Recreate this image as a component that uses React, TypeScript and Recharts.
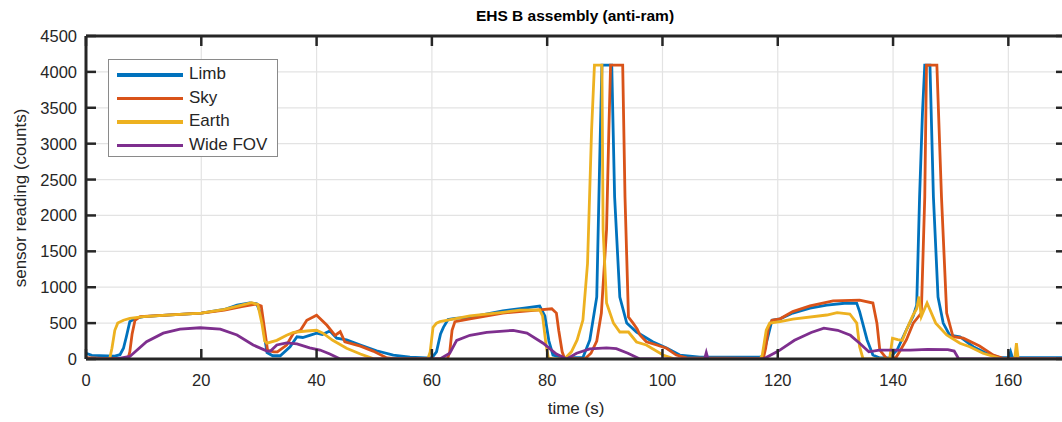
import React from 'react';
import { LineChart, Line, XAxis, YAxis, CartesianGrid, Legend } from 'recharts';

// ---------- data ----------
const xTicks = [0, 20, 40, 60, 80, 100, 120, 140, 160];
const yTicks = [0, 500, 1000, 1500, 2000, 2500, 3000, 3500, 4000, 4500];

const limbT = [0, 1, 5, 5.9, 6.5, 7.0, 7.6, 8.5, 10, 14, 20, 24, 26.2, 28.4, 29.6, 30.5, 31.0, 31.4, 32.4, 33.7, 35.4, 36.6, 37.6, 38.8, 40.0, 41.0, 42.3, 43.5, 45.2, 47.6, 50.4, 53.3, 56.2, 59.0, 60.0, 60.8, 61.5, 62.0, 62.8, 64.0, 66.5, 72.3, 76, 78.7, 79.6, 80.3, 81.0, 82.7, 86.2, 87.4, 88.6, 89.1, 89.5, 91.2, 91.7, 92.6, 93.8, 95.5, 98.3, 100.8, 103, 106.5, 116.9, 117.4, 118.1, 119, 120.4, 122.6, 125.6, 128.5, 132, 133.7, 134.2, 135.5, 136.5, 137.7, 139.4, 140.7, 142.3, 143.5, 144.1, 144.6, 145.1, 145.5, 146.4, 147.0, 147.8, 148.7, 149.8, 151.6, 153.9, 156.2, 158.5, 160.1, 160.4, 160.7, 170];
const limbV = [80, 50, 40, 60, 150, 310, 520, 565, 590, 610, 640, 690, 750, 780, 770, 600, 300, 90, 45, 45, 170, 310, 300, 330, 360, 340, 390, 290, 265, 195, 115, 55, 25, 15, 15, 100, 350, 440, 550, 565, 580, 670, 710, 738, 600, 250, 56, 20, 20, 265, 864, 2730, 4095, 4095, 2257, 864, 500, 376, 240, 150, 55, 25, 25, 40, 250, 540, 560, 640, 710, 750, 780, 775, 660, 265, 55, 15, 15, 125, 404, 600, 750, 2257, 3427, 4095, 4095, 2257, 864, 500, 334, 310, 171, 80, 20, 20, 100, 20, 20];

const skyT = [0, 3, 7.3, 7.6, 8.0, 8.5, 9.4, 14, 20, 24, 27, 29.6, 30.4, 31.0, 31.5, 32.6, 33.2, 34.8, 36.0, 37.2, 38.3, 40.0, 41.8, 43.2, 44.1, 44.9, 47.6, 49.8, 52.2, 54.5, 62.7, 63.1, 63.5, 64.0, 66.6, 72.3, 78.2, 80.8, 81.6, 82.0, 82.6, 83.0, 86.5, 87.6, 88.6, 89.4, 90.3, 90.7, 91.0, 93.1, 93.5, 94.1, 94.9, 95.6, 96.1, 97.2, 99.0, 100.7, 102.4, 104.2, 117.5, 117.9, 118.4, 119, 120.4, 122.6, 125.6, 129.6, 134.2, 136.5, 137.2, 137.7, 138.9, 140.5, 141.3, 142.3, 143.5, 144.9, 145.5, 145.8, 147.6, 148.4, 149.3, 150.4, 152.2, 155, 157.4, 159.1, 170];
const skyV = [20, 10, 10, 100, 350, 540, 590, 610, 640, 680, 730, 765, 740, 400, 120, 100, 100, 195, 360, 400, 540, 610, 470, 330, 380, 240, 180, 110, 15, 0, 0, 100, 400, 520, 560, 640, 680, 700, 640, 400, 100, 10, 0, 80, 250, 640, 1800, 3190, 4095, 4095, 2257, 585, 500, 420, 334, 240, 195, 150, 55, 15, 10, 150, 450, 540, 560, 660, 740, 810, 820, 780, 500, 125, 5, 20, 125, 265, 500, 640, 2257, 4095, 4095, 2257, 640, 310, 290, 180, 55, 10, 5];

const earthT = [0, 4.1, 4.5, 5.0, 5.5, 6.5, 7.6, 10, 14, 20, 24, 27, 28.7, 29.8, 30.5, 31.0, 31.4, 33.1, 34.8, 36.0, 38.3, 40.0, 41.1, 42.8, 45.2, 47.6, 49.8, 59.3, 59.7, 60.2, 60.8, 61.4, 63.2, 66.6, 72.3, 75.3, 78.7, 79.2, 79.8, 80.2, 81, 83, 84.2, 85.2, 86.2, 87.0, 87.7, 88.2, 89.5, 89.7, 90.3, 91.5, 92.6, 94.1, 95.5, 97.2, 100.1, 101.9, 116.9, 117.3, 118, 118.6, 120.4, 122.6, 128.5, 130.3, 132.5, 133.7, 134.2, 134.8, 139.4, 139.9, 140.8, 141.6, 142.3, 143.4, 144.1, 144.5, 144.9, 145.9, 147.4, 149.3, 151.6, 153.3, 155.6, 158.5, 161.1, 161.4, 161.7, 170];
const earthV = [0, 0, 150, 400, 500, 540, 565, 590, 610, 640, 690, 750, 785, 760, 500, 250, 220, 260, 330, 370, 390, 400, 360, 260, 150, 70, 5, 0, 100, 440, 500, 520, 550, 600, 650, 680, 685, 600, 200, 20, 0, 0, 100, 265, 543, 1330, 3180, 4095, 4095, 1800, 780, 500, 376, 376, 237, 195, 55, 5, 0, 50, 400, 500, 520, 557, 613, 645, 627, 500, 171, 0, 0, 290, 270, 260, 400, 600, 700, 870, 590, 780, 500, 334, 219, 171, 80, 10, 0, 220, 0, 0];

const wideT = [0, 5.3, 7.6, 10.5, 13.4, 16.3, 19.8, 23.3, 26.2, 29.0, 31.4, 32.0, 33.1, 34.8, 36.6, 38.8, 40.6, 42.3, 44.1, 61.4, 63.1, 64.3, 66.6, 69.5, 74.1, 76.5, 79.3, 81.6, 83.4, 85.1, 87.4, 90.3, 92.0, 94.0, 96.1, 107.3, 107.6, 107.9, 117.5, 120.1, 122.9, 125.8, 128.0, 130.4, 132.6, 134.2, 135.8, 137.6, 140, 143, 146, 149.5, 150.6, 151.4, 170];
const wideV = [0, 0, 35, 240, 360, 415, 435, 415, 335, 195, 110, 110, 195, 225, 210, 155, 125, 70, 0, 0, 80, 260, 330, 370, 400, 360, 220, 70, 0, 80, 140, 155, 145, 80, 0, 0, 90, 0, 0, 110, 260, 370, 430, 400, 330, 220, 100, 125, 125, 125, 135, 130, 110, 0, 0];

const seriesNames = ['Limb', 'Sky', 'Earth', 'Wide FOV'];
const seriesColors = ['#0072BD', '#D95319', '#EDB120', '#7E2F8E'];

const zip = (ts: number[], vs: number[]) => ts.map((t, i) => ({ t, v: vs[i] }));
const seriesData = [zip(limbT, limbV), zip(skyT, skyV), zip(earthT, earthV), zip(wideT, wideV)];

// ---------- styling ----------
const AX = '#262626';
const FONT = '"Liberation Sans", Arial, Helvetica, sans-serif';
const TICK_LEN = 10;
const TICK_W = 2.5;

const BottomTick = (p: any) => {
  const { x, y, payload } = p;
  return (
    <g>
      <line x1={x} y1={y} x2={x} y2={y - TICK_LEN} stroke={AX} strokeWidth={TICK_W} />
      <text x={x} y={y + 27} textAnchor="middle" fill={AX} fontSize={16.5} fontFamily={FONT}>
        {payload.value}
      </text>
    </g>
  );
};
const TopTick = (p: any) => {
  const { x, y } = p;
  return <line x1={x} y1={y} x2={x} y2={y + TICK_LEN} stroke={AX} strokeWidth={TICK_W} />;
};
const LeftTick = (p: any) => {
  const { x, y, payload } = p;
  return (
    <g>
      <line x1={x} y1={y} x2={x + TICK_LEN} y2={y} stroke={AX} strokeWidth={TICK_W} />
      <text x={x - 9} y={y + 6} textAnchor="end" fill={AX} fontSize={16.5} fontFamily={FONT}>
        {payload.value}
      </text>
    </g>
  );
};
const RightTick = (p: any) => {
  const { x, y } = p;
  return <line x1={x} y1={y} x2={x - TICK_LEN} y2={y} stroke={AX} strokeWidth={TICK_W} />;
};

const XLabels = () => (
  <g>
    <text x={575} y={21} textAnchor="middle" fill="#000" fontSize={15.5} fontWeight="bold" fontFamily={FONT}>
      EHS B assembly (anti-ram)
    </text>
    <text x={576} y={414} textAnchor="middle" fill={AX} fontSize={17} fontFamily={FONT}>
      time (s)
    </text>
  </g>
);
const YLabel = () => (
  <text x={26} y={198} textAnchor="middle" fill={AX} fontSize={17} fontFamily={FONT} transform="rotate(-90 26 198)">
    sensor reading (counts)
  </text>
);

const LegendBox = () => (
  <div
    style={{
      width: 170,
      height: 98,
      border: '1px solid #8a8a8a',
      background: '#fff',
      boxSizing: 'border-box',
      position: 'relative',
      fontFamily: FONT,
    }}
  >
    {seriesNames.map((n, i) => (
      <div key={n} style={{ position: 'absolute', left: 0, top: 3 + i * 23.5, height: 22, width: '100%' }}>
        <div style={{ position: 'absolute', left: 8, top: 10, width: 66, height: 3.5, background: seriesColors[i] }} />
        <div style={{ position: 'absolute', left: 80, top: 1, fontSize: 17, color: AX, lineHeight: '20px' }}>{n}</div>
      </div>
    ))}
  </div>
);

export default function App() {
  return (
    <div style={{ position: 'absolute', left: 0, top: 0, width: 1062, height: 422, overflow: 'hidden', background: '#fff' }}>
      <LineChart width={1070} height={422} margin={{ top: 35, right: 3, bottom: 0, left: 0 }}>
        <CartesianGrid xAxisId="b" yAxisId="l" stroke="#e3e3e3" strokeWidth={1.2} />
        <XAxis
          xAxisId="b"
          type="number"
          dataKey="t"
          domain={[0, 170]}
          ticks={xTicks}
          allowDataOverflow
          height={63}
          tickSize={0}
          tickMargin={0}
          tickLine={false}
          axisLine={{ stroke: AX, strokeWidth: 3 }}
          tick={<BottomTick />}
          label={<XLabels />}
        />
        <XAxis
          xAxisId="top"
          orientation="top"
          type="number"
          dataKey="t"
          domain={[0, 170]}
          ticks={xTicks}
          allowDataOverflow
          height={1}
          tickSize={0}
          tickMargin={0}
          tickLine={false}
          axisLine={{ stroke: AX, strokeWidth: 3 }}
          tick={<TopTick />}
        />
        <YAxis
          yAxisId="l"
          type="number"
          domain={[0, 4500]}
          ticks={yTicks}
          allowDataOverflow
          width={86}
          tickSize={0}
          tickMargin={0}
          tickLine={false}
          axisLine={{ stroke: AX, strokeWidth: 3 }}
          tick={<LeftTick />}
          label={<YLabel />}
        />
        <YAxis
          yAxisId="r"
          orientation="right"
          type="number"
          domain={[0, 4500]}
          ticks={yTicks}
          allowDataOverflow
          width={1}
          tickSize={0}
          tickMargin={0}
          tickLine={false}
          axisLine={{ stroke: AX, strokeWidth: 3 }}
          tick={<RightTick />}
        />
        <Line
          xAxisId="top"
          yAxisId="r"
          data={seriesData[3]}
          dataKey="v"
          stroke="none"
          strokeWidth={0}
          dot={false}
          activeDot={false}
          legendType="none"
          isAnimationActive={false}
        />
        {seriesData.map((d, i) => (
          <Line
            key={seriesNames[i]}
            xAxisId="b"
            yAxisId="l"
            data={d}
            dataKey="v"
            name={seriesNames[i]}
            type="linear"
            stroke={seriesColors[i]}
            strokeWidth={2.8}
            dot={false}
            activeDot={false}
            isAnimationActive={false}
          />
        ))}
        <Legend
          layout="vertical"
          align="center"
          verticalAlign="middle"
          content={<LegendBox />}
          wrapperStyle={{ position: 'absolute', left: 108, top: 59, width: 170, height: 98, margin: 0 }}
        />
      </LineChart>
    </div>
  );
}
